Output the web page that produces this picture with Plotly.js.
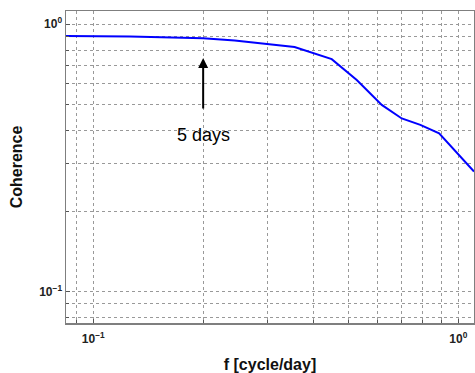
<!DOCTYPE html>
<html>
<head>
<meta charset="utf-8">
<script src="https://cdn.plot.ly/plotly-3.0.1.min.js"></script>
<style>html,body{margin:0;padding:0;background:#fff;}</style>
</head>
<body>
<div id="chart" style="width:475px;height:373px;"></div>
<script>
var freq = [0.0842, 0.0876, 0.126, 0.2, 0.244, 0.356, 0.45, 0.527, 0.617, 0.700, 0.787, 0.886, 1.104];
var coherence = [0.904, 0.904, 0.899, 0.886, 0.868, 0.822, 0.740, 0.618, 0.499, 0.444, 0.420, 0.391, 0.281];
var xGrid = [0.09, 0.2, 0.3, 0.4, 0.5, 0.6, 0.7, 0.8, 0.9];
var xTicks = [0.1, 1];
var xLabels = ['<b>10<sup>−1</sup></b>', '<b>10<sup>0</sup></b>'];
var yGrid = [0.08, 0.09, 0.2, 0.3, 0.4, 0.5, 0.6, 0.7, 0.8, 0.9];
var yTicks = [0.1, 1];
var yLabels = ['<b>10<sup>−1</sup></b>', '<b>10<sup>0</sup></b>'];
var arrowFreq = 0.2, arrowHead = 0.748, arrowTail = 0.478;
var noteText = '5 days', noteY = 0.385;

var tickFont = {family: 'Liberation Sans, Arial, sans-serif', size: 12, color: '#222'};
var gridStyle = {showgrid: true, gridcolor: '#999', griddash: 'dot', gridwidth: 1};
var axisCommon = Object.assign({
  type: 'log', showline: true, linecolor: '#7f7f7f', linewidth: 1.5, mirror: true,
  ticks: 'inside', ticklen: 4, tickcolor: '#555', tickmode: 'array',
  zeroline: false, tickfont: tickFont
}, gridStyle);
var layout = {
  width: 475, height: 373,
  margin: {l: 66, r: 1, t: 11, b: 50},
  paper_bgcolor: '#fff', plot_bgcolor: '#fff',
  showlegend: false,
  xaxis: Object.assign({}, axisCommon, {
    range: [Math.log10(0.0842), Math.log10(1.104)],
    tickvals: xTicks, ticktext: xLabels, ticklabelstandoff: 4,
    minor: Object.assign({tickmode: 'array', tickvals: xGrid, ticks: 'inside', ticklen: 3, tickcolor: '#555'}, gridStyle),
    title: {text: '<b>f [cycle/day]</b>', font: {family: 'Liberation Sans, Arial, sans-serif', size: 16, color: '#111'}, standoff: 14}
  }),
  yaxis: Object.assign({}, axisCommon, {
    range: [Math.log10(0.0763), Math.log10(1.12)],
    tickvals: yTicks, ticktext: yLabels,
    minor: Object.assign({tickmode: 'array', tickvals: yGrid, ticks: 'inside', ticklen: 3, tickcolor: '#555'}, gridStyle),
    title: {text: '<b>Coherence</b>', font: {family: 'Liberation Sans, Arial, sans-serif', size: 16, color: '#111'}, standoff: 12}
  }),
  annotations: [
    {x: Math.log10(arrowFreq), y: Math.log10(arrowHead), ax: Math.log10(arrowFreq), ay: Math.log10(arrowTail),
     xref: 'x', yref: 'y', axref: 'x', ayref: 'y', showarrow: true, arrowhead: 2, arrowsize: 1, arrowwidth: 2,
     arrowcolor: '#000', text: ''},
    {x: Math.log10(arrowFreq), y: Math.log10(noteY), xref: 'x', yref: 'y', showarrow: false,
     text: noteText, font: {family: 'Liberation Sans, Arial, sans-serif', size: 18, color: '#000'}}
  ]
};
Plotly.newPlot('chart', [{
  x: freq, y: coherence, type: 'scatter', mode: 'lines',
  line: {color: '#0000ff', width: 2}
}], layout, {displayModeBar: false, staticPlot: true});
</script>
</body>
</html>
